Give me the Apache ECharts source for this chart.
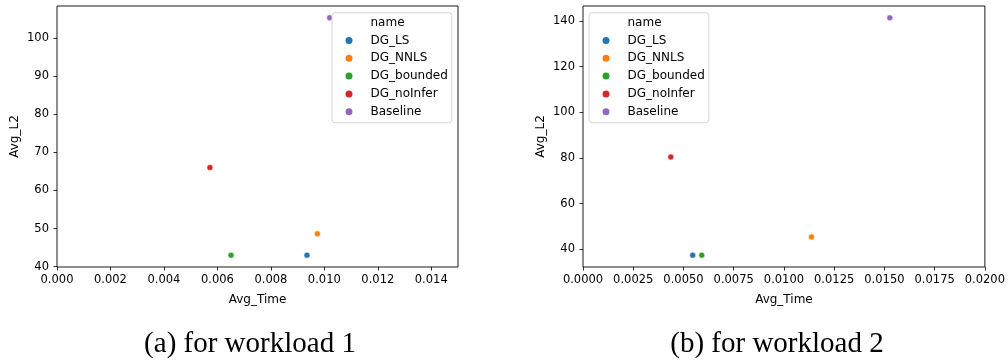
<!DOCTYPE html>
<html>
<head>
<meta charset="utf-8">
<script src="https://cdn.jsdelivr.net/npm/echarts@6/dist/echarts.min.js"></script>
<style>
html,body{margin:0;padding:0;background:#fff;}
#chart{width:1008px;height:360px;}
</style>
</head>
<body>
<div id="chart"></div>
<script>
// ---- data ----
const seriesNames = ['DG_LS', 'DG_NNLS', 'DG_bounded', 'DG_noInfer', 'Baseline'];
const colors = ['#1f77b4', '#ff7f0e', '#2ca02c', '#d62728', '#9467bd'];
// workload 1: [Avg_Time, Avg_L2]
const w1Time = [0.00935, 0.00974, 0.00651, 0.00572, 0.0102];
const w1L2   = [43.0, 48.6, 43.0, 66.0, 105.3];
// workload 2
const w2Time = [0.00546, 0.01137, 0.00591, 0.00437, 0.01527];
const w2L2   = [37.4, 45.4, 37.4, 80.4, 141.4];
// tick labels
const xTicks1 = ['0.000', '0.002', '0.004', '0.006', '0.008', '0.010', '0.012', '0.014'];
const yTicks1 = ['40', '50', '60', '70', '80', '90', '100'];
const xTicks2 = ['0.0000', '0.0025', '0.0050', '0.0075', '0.0100', '0.0125', '0.0150', '0.0175', '0.0200'];
const yTicks2 = ['40', '60', '80', '100', '120', '140'];
const captions = ['(a) for workload 1', '(b) for workload 2'];
const legendTitle = 'name';
const xName = 'Avg_Time';
const yName = 'Avg_L2';

const chart = echarts.init(document.getElementById('chart'), null, {renderer: 'canvas'});
const FONT = 'DejaVu Sans';

function xAxis(gi, min, max, ticks, dec) {
  return {
    type: 'value', gridIndex: gi, min: min, max: max,
    name: xName, nameLocation: 'middle', nameGap: 27,
    nameTextStyle: {fontFamily: FONT, fontSize: 12, color: '#000'},
    axisLine: {show: false},
    axisTick: {show: true, length: 3.5, inside: false, lineStyle: {color: '#000', width: 0.8},
      customValues: ticks.map(Number)},
    axisLabel: {show: true, margin: 7, fontFamily: FONT, fontSize: 11.5, color: '#000',
      customValues: ticks.map(Number),
      formatter: v => Number(v).toFixed(dec)},
    splitLine: {show: false}
  };
}
function yAxis(gi, min, max, ticks) {
  return {
    type: 'value', gridIndex: gi, min: min, max: max,
    name: yName, nameLocation: 'middle', nameGap: 36, nameRotate: 90,
    nameTextStyle: {fontFamily: FONT, fontSize: 12, color: '#000'},
    axisLine: {show: false},
    axisTick: {show: true, length: 3.5, inside: false, lineStyle: {color: '#000', width: 0.8},
      customValues: ticks.map(Number)},
    axisLabel: {show: true, margin: 8, fontFamily: FONT, fontSize: 11.5, color: '#000',
      customValues: ticks.map(Number),
      formatter: v => String(Math.round(v))},
    splitLine: {show: false}
  };
}
const rich = {
  e: {width: 7, height: 7, fontSize: 1},
  t: {fontFamily: FONT, fontSize: 12, color: '#000', lineHeight: 14, padding: [0, 0, 0, 18]}
};
colors.forEach((c, i) => {
  rich['d' + i] = {width: 7, height: 7, fontSize: 1, backgroundColor: c, borderRadius: 3.5};
});
function legend(left) {
  const names = [legendTitle].concat(seriesNames);
  return {
    orient: 'vertical', left: left, top: 12.7,
    data: names.map(n => ({name: n, icon: 'none'})),
    itemWidth: 2, itemHeight: 7, itemGap: 3.8,
    itemStyle: {opacity: 0, borderWidth: 0},
    padding: [3, 4, 4, 6.5],
    backgroundColor: 'rgba(255,255,255,0.8)',
    borderColor: '#d6d6d6', borderWidth: 1, borderRadius: 3,
    formatter: function (name) {
      const idx = seriesNames.indexOf(name);
      const mark = idx >= 0 ? '{d' + idx + '|\u00a0}' : '{e|\u00a0}';
      return mark + '{t|' + name + '}';
    },
    textStyle: {fontFamily: FONT, fontSize: 12, color: '#000', lineHeight: 14, rich: rich},
    selectedMode: false
  };
}

const series = [{
  name: legendTitle, type: 'scatter', xAxisIndex: 0, yAxisIndex: 0, data: [],
  itemStyle: {color: 'rgba(0,0,0,0)', borderWidth: 0}
}];
[[w1Time, w1L2, 0], [w2Time, w2L2, 1]].forEach(([xs, ys, gi]) => {
  seriesNames.forEach((n, i) => {
    series.push({
      name: n, type: 'scatter', xAxisIndex: gi, yAxisIndex: gi,
      symbol: 'circle', symbolSize: 6,
      itemStyle: {color: colors[i], borderColor: '#fff', borderWidth: 0.5, opacity: 1},
      emphasis: {disabled: true},
      data: [[xs[i], ys[i]]]
    });
  });
});

chart.setOption({
  animation: false,
  backgroundColor: '#fff',
  grid: [
    {left: 57, top: 6, width: 401, height: 261, show: true, borderColor: '#000', borderWidth: 0.9, backgroundColor: 'transparent'},
    {left: 583, top: 6, width: 402, height: 261, show: true, borderColor: '#000', borderWidth: 0.9, backgroundColor: 'transparent'}
  ],
  xAxis: [xAxis(0, 0, 0.015, xTicks1, 3), xAxis(1, 0, 0.02, xTicks2, 4)],
  yAxis: [yAxis(0, 39.9, 108.4, yTicks1), yAxis(1, 32.2, 146.6, yTicks2)],
  legend: [legend(332), legend(589)],
  series: series,
  graphic: [
    {type: 'text', x: 250, y: 344, style: {text: captions[0], x: 0, y: 0, align: 'center', verticalAlign: 'middle', font: '29px "Liberation Serif"', fill: '#000'}},
    {type: 'text', x: 777, y: 344, style: {text: captions[1], x: 0, y: 0, align: 'center', verticalAlign: 'middle', font: '29px "Liberation Serif"', fill: '#000'}}
  ]
});
</script>
</body>
</html>
